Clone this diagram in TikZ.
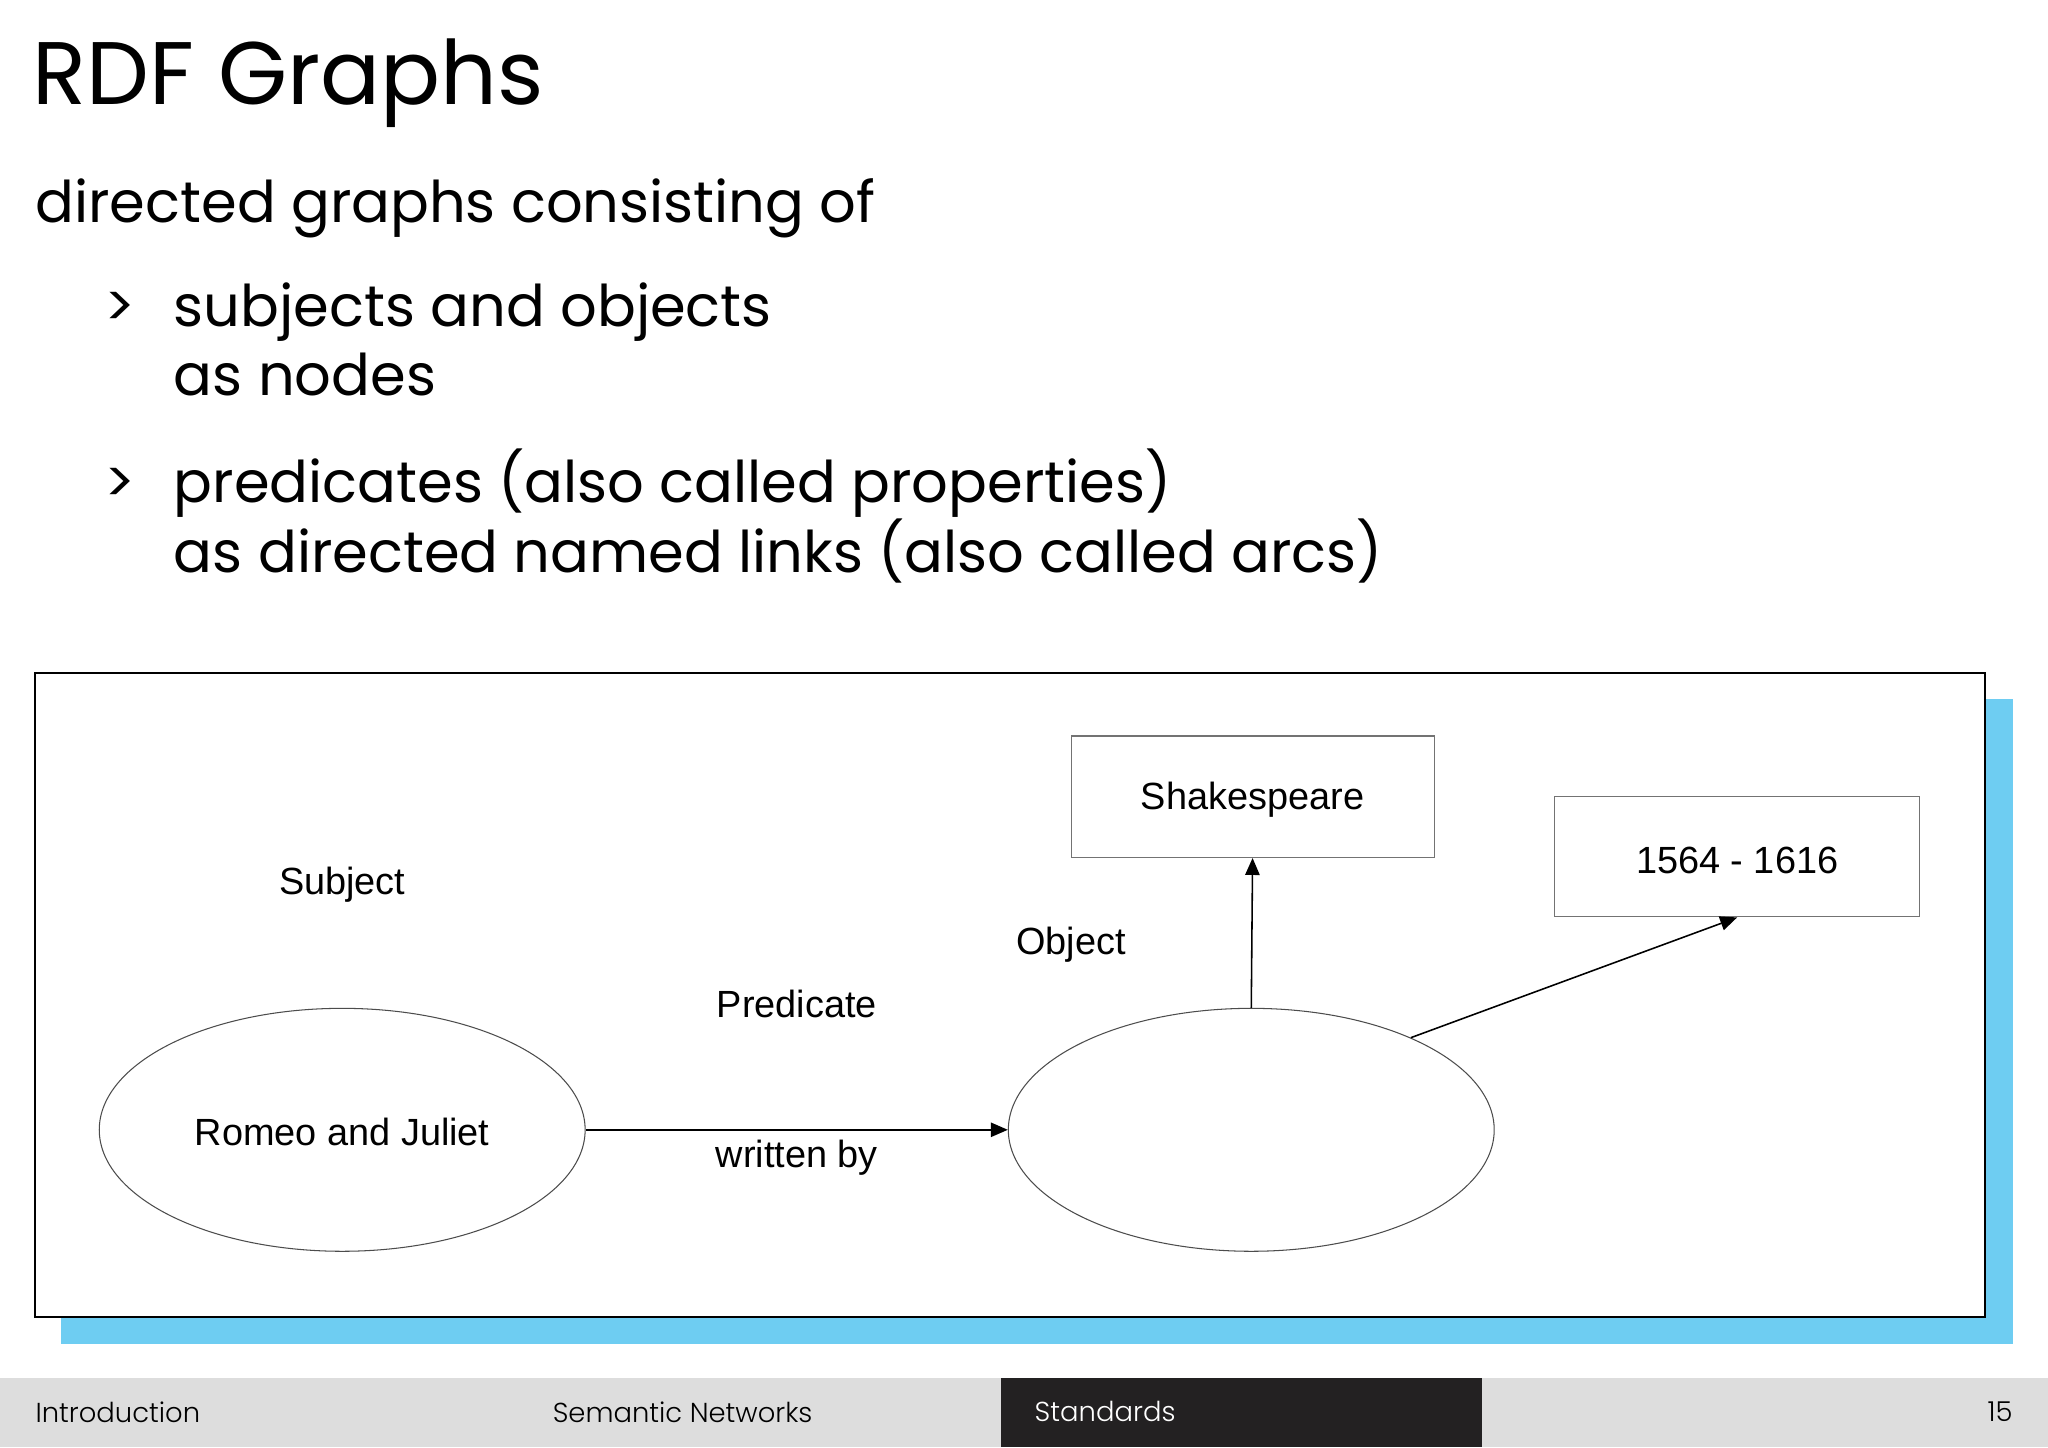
\documentclass[tikz,border=0pt]{standalone}
\usepackage{fontspec}
\setmainfont{Poppins}
\newfontfamily\arialf{Liberation Sans}
\usetikzlibrary{shapes.geometric,arrows.meta}
\definecolor{skyb}{RGB}{110,205,242}
\definecolor{footg}{RGB}{221,221,221}
\definecolor{footd}{RGB}{35,33,34}
\tikzset{
 body/.style={anchor=base west,inner sep=0,font=\fontsize{44}{50}\selectfont\mdseries},
 dlab/.style={font=\arialf\fontsize{29}{32}\selectfont,inner sep=0},
 ell/.style={ellipse,draw=black!70,line width=0.8pt,minimum width=372pt,minimum height=186pt},
 bx/.style={rectangle,draw=black!55,line width=0.8pt},
 arr/.style={-{Triangle[length=13pt,width=11pt]},line width=1.2pt},
 foot/.style={font=\fontsize{21}{24}\selectfont\fontspec{Poppins Light},anchor=west,inner sep=0}
}
\begin{document}
\begin{tikzpicture}[x=1pt,y=-1pt]
\useasboundingbox[fill=white] (0,0) rectangle (1568,1108);
\node[anchor=base west,inner sep=0,font=\fontsize{68}{70}\selectfont] (title) at (25,80) {RDF Graphs};
\node[body] (t1) at (27,170) {directed graphs consisting of};
\node[body] (g1) at (80,250) {>};
\node[body] (t2) at (133,250) {subjects and objects};
\node[body] (t3) at (133,303) {as nodes};
\node[body] (g2) at (80,385) {>};
\node[body] (t4) at (133,385) {predicates (also called properties)};
\node[body] (t5) at (133,438) {as directed named links (also called arcs)};
\fill[skyb] (47,535) rectangle (1541,1029);
\draw[fill=white,line width=1.5pt] (27,515) rectangle (1520,1008);
\node[ell] (e1) at (262,865) {};
\node[dlab] (rj) at (262,867) {Romeo and Juliet};
\node[ell] (e2) at (958,865) {};
\node[bx,minimum width=278pt,minimum height=93pt] (sh) at (959,610) {};
\node[dlab] (sht) at (959,612) {Shakespeare};
\node[bx,minimum width=279pt,minimum height=92pt] (yr) at (1330,656) {};
\node[dlab] (yrt) at (1330,659) {1564 - 1616};
\node[dlab] (subj) at (262,677) {Subject};
\node[dlab] (pred) at (610,769) {Predicate};
\node[dlab] (obj) at (820,723) {Object};
\node[dlab] (wb) at (610,886) {written by};
\draw[arr] (e1.east) -- (e2.west);
\draw[arr] (e2.north) -- (sh.south);
\draw[arr] (e2.30) -- (yr.south);
\fill[footg] (0,1055) rectangle (1568,1108);
\fill[footd] (766,1055) rectangle (1135,1108);
\node[foot] (f1) at (27,1081) {Introduction};
\node[foot] (f2) at (423,1081) {Semantic Networks};
\node[foot,text=white] (f3) at (792,1081) {Standards};
\node[foot,anchor=east] (f4) at (1541,1081) {15};
\end{tikzpicture}
\end{document}
